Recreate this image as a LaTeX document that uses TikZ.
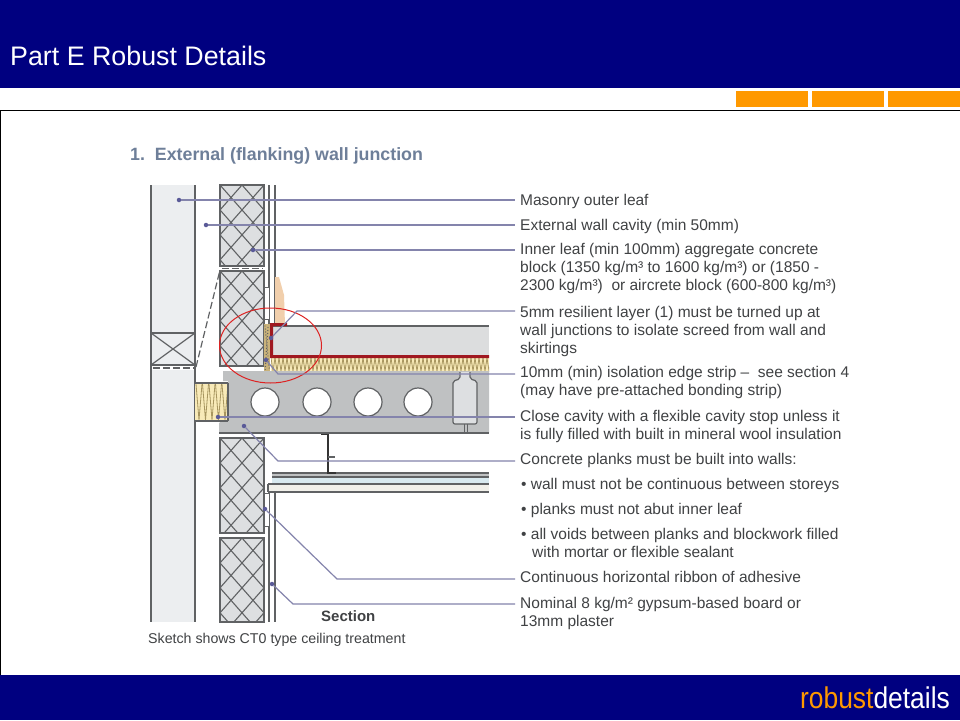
\documentclass[tikz,border=0pt]{standalone}
\usepackage{fontspec}
\setmainfont{Liberation Sans}
\definecolor{BandColor}{HTML}{000080}
\definecolor{TabColor}{HTML}{FF9900}
\definecolor{LeafColor}{HTML}{ECEEF0}
\definecolor{BlockColor}{HTML}{DDDFE1}
\definecolor{PlankColor}{HTML}{BFC1C2}
\definecolor{ScreedColor}{HTML}{DCDDDE}
\definecolor{WoolColor}{HTML}{F8EAB8}
\definecolor{WoolLine}{HTML}{A89660}
\definecolor{LayerColor}{HTML}{A01820}
\definecolor{SkirtColor}{HTML}{F1CFAC}
\definecolor{EdgeColor}{HTML}{C9B27A}
\definecolor{LineColor}{HTML}{606264}
\definecolor{LeaderColor}{HTML}{8484AC}
\definecolor{DotColor}{HTML}{5A5A98}
\definecolor{TextColor}{HTML}{404244}
\definecolor{HeadColor}{HTML}{6E7F99}
\definecolor{GlassColor}{HTML}{D8E9EF}
\definecolor{BoardColor}{HTML}{F1F0EA}
\definecolor{RingColor}{HTML}{DD2222}
\tikzstyle{wall_line}=[draw=LineColor, line width=1.2pt]
\tikzstyle{hatch_line}=[draw=LineColor, line width=1.1pt]
\tikzstyle{leader}=[draw=LeaderColor, line width=1.2pt]
\tikzstyle{leader_dot}=[circle, fill=DotColor, inner sep=0pt, minimum size=4.5pt]
\tikzstyle{tab_box}=[rectangle, fill=TabColor, minimum width=72pt, minimum height=16pt, inner sep=0pt]
\tikzstyle{label_text}=[anchor=north west, align=left, inner sep=0pt, text=TextColor,
                        font=\fontsize{15.5}{18}\selectfont]
\tikzstyle{hole}=[circle, fill=white, draw=LineColor, line width=1.2pt, minimum size=28pt, inner sep=0pt]
\newcommand{\hatchblock}[3]{%
    % x left, y top, y bottom
    \begin{scope}
        \clip (#1,#2) rectangle (#1+44,#3);
        \fill[BlockColor] (#1,#2) rectangle (#1+44,#3);
        \foreach \la in {-8,...,8} {
            \draw[hatch_line] (#1+22*\la,#2) -- ++(150,170);
            \draw[hatch_line] (#1+22*\la,#2) -- ++(-150,170);
        }
    \end{scope}
    \draw[wall_line] (#1,#2) rectangle (#1+44,#3);
}
\begin{document}
\begin{tikzpicture}[x=1pt, y=-1pt]
    \useasboundingbox (0,0) rectangle (960,720);
    % ---------------------------------------------------------------------------------------------------------
    %  Slide frame
    \fill[white] (0,0) rectangle (960,720);
    \fill[BandColor] (0,0) rectangle (960,88);
    \fill[BandColor] (0,675) rectangle (960,720);
    \draw[black, line width=1pt] (0,110.5) -- (960,110.5);
    \draw[black, line width=1pt] (0.5,110) -- (0.5,675);
    \node at (10,56) (title) [anchor=west, inner sep=0pt, text=white, font=\fontsize{26.8}{30}\selectfont] {Part E Robust Details};
    \node at (772,99) (tab0) [tab_box] {};
    \node at (848,99) (tab1) [tab_box] {};
    \node at (924,99) (tab2) [tab_box] {};
    \node at (950,698) (logo) [anchor=east, inner sep=0pt, xscale=0.88, transform shape, font=\fontsize{30}{30}\selectfont] {\textcolor{TabColor}{robust}\textcolor{white}{details}};

    \node at (130,156) (heading) [anchor=west, inner sep=0pt, text=HeadColor, font=\bfseries\fontsize{17.8}{20}\selectfont] {1.\ \ External (flanking) wall junction};

    % ---------------------------------------------------------------------------------------------------------
    %  Outer leaf
    \fill[LeafColor] (151,185) rectangle (195,622);
    \draw[wall_line] (151,185) -- (151,622);
    \draw[wall_line] (195,185) -- (195,622);
    \draw[wall_line] (151,333) rectangle (195,365);
    \draw[wall_line] (151,333) -- (195,365);
    \draw[wall_line] (151,365) -- (195,333);
    \fill[white] (151.7,365.7) rectangle (194.3,370);
    \draw[dashed, wall_line, dash pattern=on 7pt off 3pt] (153,368) -- (194,368);
    \draw[dashed, wall_line, dash pattern=on 7pt off 3pt] (196,367) -- (220,270);

    %  Inner leaf
    \hatchblock{220}{185}{266}
    \hatchblock{220}{271}{366}
    \hatchblock{220}{438}{533}
    \hatchblock{220}{538}{622}
    \draw[dashed, wall_line, dash pattern=on 7pt off 3pt] (222,268.5) -- (263,268.5);

    %  Plaster and adhesive
    \draw[wall_line] (269,185) -- (269,324);
    \draw[wall_line] (275,185) -- (275,324);
    \draw[wall_line] (269,492) -- (269,622);
    \draw[wall_line] (275,492) -- (275,622);
    \draw[wall_line, line width=0.8pt, fill=white] (264,287) rectangle (269,319);
    \draw[wall_line, line width=0.8pt, fill=white] (264,493) rectangle (269,526);
    \fill[SkirtColor] (275,277) -- (279,277) -- (284,295) -- (285,325) -- (275,325) -- cycle;

    % ---------------------------------------------------------------------------------------------------------
    %  Floor build up
    \fill[ScreedColor] (272,326) rectangle (489,355);
    \draw[wall_line] (272,326) -- (489,326);
    \fill[WoolColor] (271,358) rectangle (489,371);
    \begin{scope}
        \clip (271,358) rectangle (489,371);
        \foreach \la in {0,...,54} {
            \draw[WoolLine, line width=0.8pt] (271+4*\la,358) -- (273+4*\la,371) -- (275+4*\la,358);
        }
    \end{scope}
    \fill[EdgeColor] (264,324) rectangle (270,371);
    \foreach \la in {0,...,14} {
        \fill[LineColor] (265+\la*0.3,326+3*\la) circle (0.7pt);
        \fill[LineColor] (268-\la*0.2,327.5+3*\la) circle (0.7pt);
    }
    \fill[LayerColor] (270,323) -- (287,323) -- (287,326) -- (273,326) -- (273,355) -- (489,355) -- (489,358) -- (270,358) -- cycle;

    %  Plank
    \fill[PlankColor] (223,371) -- (489,371) -- (489,433) -- (219,433) -- (219,423) -- (228,417) -- (228,381) -- (223,381) -- cycle;
    \draw[wall_line] (219,433) -- (489,433);
    \foreach \la/\lb in {0/265,1/317,2/368,3/418} {
        \node at (\lb,402) (hole\la) [hole] {};
    }
    \draw[wall_line, rounded corners=2pt, fill=BlockColor] (460,372) -- (460,379) -- (453,381) -- (453,424) -- (477,424) -- (477,381) -- (470,379) -- (470,372);
    \draw[wall_line, line width=1pt] (464,424) -- (464,433);
    \draw[wall_line, line width=1pt] (467,424) -- (467,433);

    %  Cavity stop
    \fill[WoolColor] (195,383) rectangle (228,421);
    \foreach \la in {0,...,4} {
        \draw[WoolLine, line width=0.8pt] (196+6.5*\la,384) -- (199+6.5*\la,420) -- (202+6.5*\la,384);
    }
    \draw[wall_line] (195,383) -- (228,383);
    \draw[wall_line] (195,421) -- (228,421);
    \draw[wall_line] (228,383) -- (228,421);

    %  Ceiling
    \fill[GlassColor] (272,474) rectangle (489,484);
    \fill[PlankColor] (272,473) rectangle (489,477);
    \fill[BoardColor] (268,484) rectangle (489,492);
    \draw[wall_line] (272,473) -- (489,473);
    \draw[wall_line] (272,477) -- (489,477);
    \draw[wall_line] (268,484) -- (489,484);
    \draw[wall_line] (268,492) -- (489,492);
    \draw[wall_line] (268,484) -- (268,492);
    \draw[black!80, line width=1.8pt] (321,434.5) -- (328,434.5) -- (328,473) -- (336,473);
    \draw[wall_line] (328,457) -- (335,457);

    %  Circle
    \draw[RingColor, line width=1pt] (270.5,345.5) ellipse (51 and 37.5);

    % ---------------------------------------------------------------------------------------------------------
    %  Leaders
    \node at (179,200) (dot0) [leader_dot] {};
    \node at (206,225) (dot1) [leader_dot] {};
    \node at (253,250) (dot2) [leader_dot] {};
    \node at (271,338) (dot3) [leader_dot] {};
    \node at (266,360) (dot4) [leader_dot] {};
    \node at (218,417) (dot5) [leader_dot] {};
    \node at (244,426) (dot6) [leader_dot] {};
    \node at (265,509) (dot7) [leader_dot] {};
    \node at (272,584) (dot8) [leader_dot] {};

    \coordinate (end0) at (515,200);
    \coordinate (end1) at (515,225);
    \coordinate (end2) at (515,250);
    \coordinate (end3) at (515,311);
    \coordinate (end4) at (515,374);
    \coordinate (end5) at (515,417);
    \coordinate (end6) at (515,461);
    \coordinate (end7) at (515,579);
    \coordinate (end8) at (515,604);

    \draw[leader] (dot0) -- (end0);
    \draw[leader] (dot1) -- (end1);
    \draw[leader] (dot2) -- (end2);
    \draw[leader] (dot3) -- (297,311) -- (end3);
    \draw[leader] (dot4) -- (278,374) -- (end4);
    \draw[leader] (dot5) -- (end5);
    \draw[leader] (dot6) -- (278,461) -- (end6);
    \draw[leader] (dot7) -- (337,579) -- (end7);
    \draw[leader] (dot8) -- (293,604) -- (end8);

    % ---------------------------------------------------------------------------------------------------------
    %  Labels
    \node at (520,194) (masonry) [label_text] {Masonry outer leaf};
    \node at (520,219) (cavity) [label_text] {External wall cavity (min 50mm)};
    \node at (520,243) (innerleaf) [label_text] {Inner leaf (min 100mm) aggregate concrete\\block (1350 kg/m³ to 1600 kg/m³) or (1850 -\\2300 kg/m³)\ \ or aircrete block (600-800 kg/m³)};
    \node at (520,306) (resilient) [label_text] {5mm resilient layer (1) must be turned up at\\wall junctions to isolate screed from wall and\\skirtings};
    \node at (520,366) (edgestrip) [label_text] {10mm (min) isolation edge strip --\ \ see section 4\\(may have pre-attached bonding strip)};
    \node at (520,410) (cavitystop) [label_text] {Close cavity with a flexible cavity stop unless it\\is fully filled with built in mineral wool insulation};
    \node at (520,453) (planks) [label_text] {Concrete planks must be built into walls:};
    \node at (521,478) (bullet0) [label_text] {• wall must not be continuous between storeys};
    \node at (521,503) (bullet1) [label_text] {• planks must not abut inner leaf};
    \node at (521,528) (bullet2) [label_text] {• all voids between planks and blockwork filled\\\hspace*{11pt}with mortar or flexible sealant};
    \node at (520,571) (ribbon) [label_text] {Continuous horizontal ribbon of adhesive};
    \node at (520,597) (board) [label_text] {Nominal 8 kg/m² gypsum-based board or\\13mm plaster};
    \node at (321,610) (section) [label_text, font=\bfseries\fontsize{15}{18}\selectfont] {Section};
    \node at (148,633) (sketch) [label_text, font=\fontsize{14.2}{16}\selectfont] {Sketch shows CT0 type ceiling treatment};
\end{tikzpicture}
\end{document}
